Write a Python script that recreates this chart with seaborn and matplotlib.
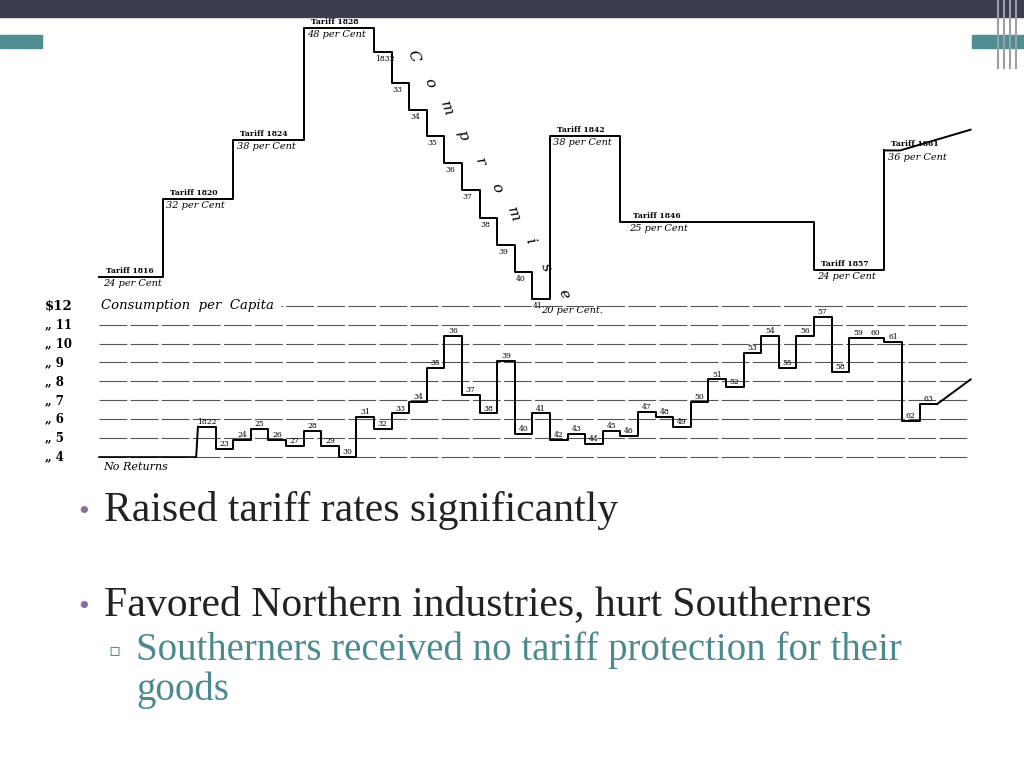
import matplotlib
matplotlib.use("Agg")
import matplotlib.pyplot as plt
import seaborn as sns
import pandas as pd
import numpy as np

# ---- data ----
tariff_years = [1816.4, 1820, 1824, 1828, 1832, 1833, 1834, 1835, 1836, 1837, 1838, 1839,
                1840, 1841, 1842, 1846, 1857, 1861, 1865.9]
tariff_level = [24, 31.5, 37.2, 48, 45.7, 42.7, 40.1, 37.6, 35.0, 32.4, 29.7, 27.1,
                24.5, 21.9, 37.6, 29.3, 24.7, 36.2, 38.2]
tariff_labels = [(1816.4, 24, "Tariff 1816", "24 per Cent"),
                 (1820, 31.5, "Tariff 1820", "32 per Cent"),
                 (1824, 37.2, "Tariff 1824", "38 per Cent"),
                 (1828, 48, "Tariff 1828", "48 per Cent"),
                 (1842, 37.6, "Tariff 1842", "38 per Cent"),
                 (1846.3, 29.3, "Tariff 1846", "25 per Cent"),
                 (1857, 24.7, "Tariff 1857", "24 per Cent"),
                 (1861, 36.2, "Tariff 1861", "36 per Cent")]
comp_years = ["1832", "33", "34", "35", "36", "37", "38", "39", "40", "41"]

cons_years = list(range(1822, 1864))
cons_values = [5.6, 4.4, 4.9, 5.5, 4.9, 4.6, 5.4, 4.6, 4.0, 6.1, 5.5, 6.3, 6.9, 8.7, 10.4,
               7.3, 6.3, 9.1, 5.2, 6.3, 4.9, 5.2, 4.7, 5.4, 5.1, 6.4, 6.1, 5.6, 6.9, 8.1,
               7.7, 9.5, 10.4, 8.7, 10.4, 11.4, 8.5, 10.3, 10.3, 10.1, 5.9, 6.8]
cons_labels = ["1822", "23", "24", "25", "26", "27", "28", "29", "30", "31", "32", "33",
               "34", "35", "36", "37", "38", "39", "40", "41", "42", "43", "44", "45",
               "46", "47", "48", "49", "50", "51", "52", "53", "54", "55", "56", "57",
               "58", "59", "60", "61", "62", "63"]
dollar_ticks = [4, 5, 6, 7, 8, 9, 10, 11, 12]

fig = plt.figure(figsize=(10.24, 7.68), dpi=100)
fig.patch.set_facecolor("white")

# slide decoration
deco = fig.add_axes([0, 0, 1, 1]); deco.set_xlim(0, 1024); deco.set_ylim(768, 0); deco.axis("off")
deco.add_patch(plt.Rectangle((0, 0), 1024, 17, color="#3d3d52"))
deco.add_patch(plt.Rectangle((0, 35), 42, 13, color="#4f8f93"))
deco.add_patch(plt.Rectangle((972, 35), 52, 13, color="#4f8f93"))
for xx in [998, 1004, 1010, 1016]:
    deco.plot([xx, xx], [0, 68], color="#9aa0a8", lw=1.5)

L, R, T, B = 42, 972, 17, 470
rect = [L / 1024, 1 - B / 768, (R - L) / 1024, (B - T) / 768]
xlim = (1813.14, 1865.98)

ax = fig.add_axes(rect)
ax.set_xlim(*xlim); ax.set_ylim(5.40, 49.06); ax.axis("off")
tdf = pd.DataFrame({"year": tariff_years, "level": tariff_level})
sns.lineplot(data=tdf.iloc[:-1], x="year", y="level", drawstyle="steps-post", color="black", lw=1.4, ax=ax)
ax.plot([1861, 1861.9, 1865.9], [36.2, 36.2, 38.2], color="black", lw=1.4)
for x, y, t1, t2 in tariff_labels:
    ax.text(x + 0.4, y + 0.2, t1, fontsize=5.5, family="DejaVu Serif", fontweight="bold", va="bottom")
    ax.text(x + 0.2, y - 0.2, t2, fontsize=7, family="DejaVu Serif", style="italic", va="top")
for i, lab in enumerate(comp_years):
    ax.text(1832.05 + i, tariff_level[4 + i] - 0.3, lab, fontsize=5.5, family="DejaVu Serif", va="top")
for i, ch in enumerate("Compromise"):
    ax.text(1834.2 + i * 0.95, 45.3 - i * 2.55, ch, fontsize=11, family="DejaVu Serif",
            style="italic", rotation=-70, ha="center", va="center")
ax.text(1841.5, 21.2, "20 per Cent.", fontsize=7, family="DejaVu Serif", style="italic", va="top")

ax2 = fig.add_axes(rect)
ax2.set_xlim(*xlim); ax2.set_ylim(3.31, 27.28); ax2.axis("off")
for d in dollar_ticks:
    ax2.plot([1816.4, 1865.8], [d, d], color="#555555", lw=0.8, ls=(0, (25, 3)))
    lab = "$12" if d == 12 else "„ %d" % d
    ax2.text(1813.3, d, lab, fontsize=9.5 if d == 12 else 8.5, family="DejaVu Serif",
             fontweight="bold", va="center")
ax2.text(1816.5, 12.0, "Consumption  per  Capita", fontsize=9.5, family="DejaVu Serif",
         style="italic", va="center", backgroundcolor="white")
ax2.text(1816.6, 3.75, "No Returns", fontsize=8, family="DejaVu Serif", style="italic", va="top")
cdf = pd.DataFrame({"year": cons_years + [1864], "value": cons_values + [cons_values[-1]]})
sns.lineplot(data=cdf, x="year", y="value", drawstyle="steps-post", color="black", lw=1.4, ax=ax2)
ax2.plot([1821.9, 1822], [4, cons_values[0]], color="black", lw=1.4)
ax2.plot([1821.9, 1816.4], [4, 4], color="black", lw=1.2)
ax2.plot([1864, 1865.9], [6.8, 8.1], color="black", lw=1.4)
for yr, v, lab in zip(cons_years, cons_values, cons_labels):
    ax2.text(yr + 0.5, v + 0.05, lab, fontsize=5.5, family="DejaVu Serif", ha="center", va="bottom")

# slide text
serif = "Liberation Serif"
deco.text(76, 512, "•", color="#8a6f9e", fontsize=18, va="center")
deco.text(104, 510, "Raised tariff rates significantly", fontsize=30, family=serif, va="center", color="#222222")
deco.text(76, 607, "•", color="#8a6f9e", fontsize=18, va="center")
deco.text(104, 605, "Favored Northern industries, hurt Southerners", fontsize=30, family=serif,
          va="center", color="#222222")
deco.text(108, 651, "▫", color="#4f8f93", fontsize=13, va="center")
deco.text(136, 650, "Southerners received no tariff protection for their", fontsize=28, family=serif,
          va="center", color="#4a8a8f")
deco.text(136, 690, "goods", fontsize=28, family=serif, va="center", color="#4a8a8f")

fig.savefig("out.png", dpi=100)
